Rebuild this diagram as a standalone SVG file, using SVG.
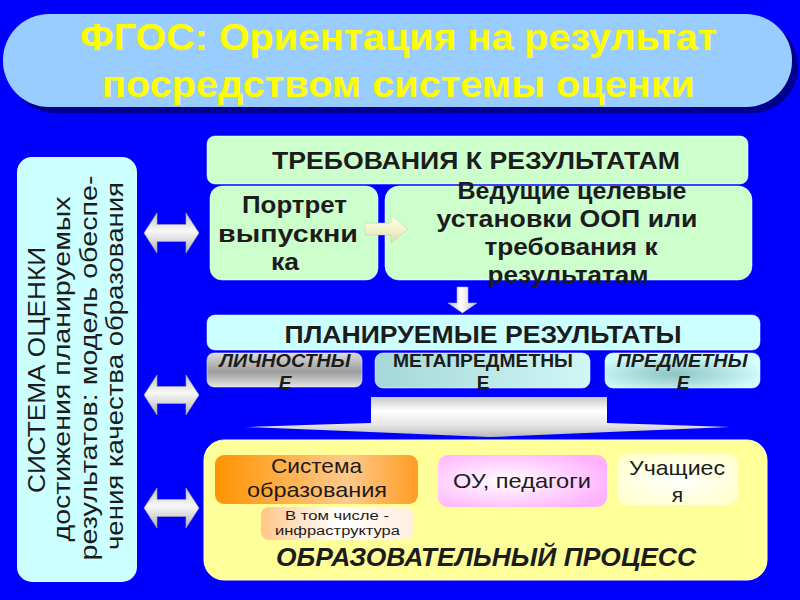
<svg xmlns="http://www.w3.org/2000/svg" width="800" height="600" viewBox="0 0 800 600">
<defs>
<style>
text{font-family:"Liberation Sans",Arial,sans-serif;fill:#1c1c1c;text-anchor:middle}
.title{font-size:36px;font-weight:bold;fill:#ffff00}
.side{font-size:24px}
.b{font-weight:bold}
.bi{font-weight:bold;font-style:italic}
.box{stroke:#ffffff;stroke-opacity:0.5;stroke-width:1}
.dbl{fill:url(#gArrow);stroke:#a8a8a8;stroke-width:0.6}
</style>
<linearGradient id="gArrow" x1="0" y1="0" x2="0" y2="1">
<stop offset="0" stop-color="#c4c4c4"/><stop offset="0.45" stop-color="#f8f8f8"/><stop offset="1" stop-color="#b2b2b2"/>
</linearGradient>
<linearGradient id="gDown" x1="0" y1="0" x2="1" y2="0">
<stop offset="0" stop-color="#bcbcbc"/><stop offset="0.45" stop-color="#ffffff"/><stop offset="1" stop-color="#c4c4c4"/>
</linearGradient>
<linearGradient id="gRight" x1="0" y1="0" x2="0" y2="1">
<stop offset="0" stop-color="#ffffe8"/><stop offset="0.5" stop-color="#f4f4d0"/><stop offset="1" stop-color="#dcdcb0"/>
</linearGradient>
<linearGradient id="gWide" x1="0" y1="0" x2="0" y2="1">
<stop offset="0" stop-color="#c8c8c8"/><stop offset="0.35" stop-color="#ffffff"/><stop offset="0.7" stop-color="#e6e6e6"/><stop offset="1" stop-color="#b8b8b8"/>
</linearGradient>
<linearGradient id="gLich" x1="0" y1="0" x2="0" y2="1">
<stop offset="0" stop-color="#dcdcdc"/><stop offset="0.55" stop-color="#9c9c9c"/><stop offset="1" stop-color="#e4e4e4"/>
</linearGradient>
<linearGradient id="gMeta" x1="0" y1="0" x2="1" y2="0">
<stop offset="0" stop-color="#a4d8d8"/><stop offset="1" stop-color="#d2f6f6"/>
</linearGradient>
<radialGradient id="gPred" cx="0.45" cy="0.6" r="0.6">
<stop offset="0" stop-color="#8ec4c4"/><stop offset="1" stop-color="#d4ffff"/>
</radialGradient>
<linearGradient id="gSys" x1="0" y1="0" x2="1" y2="0">
<stop offset="0" stop-color="#ff9300"/><stop offset="0.65" stop-color="#ffca8c"/><stop offset="1" stop-color="#ff9c24"/>
</linearGradient>
<linearGradient id="gInfra" x1="0" y1="0" x2="1" y2="0">
<stop offset="0" stop-color="#ffc688"/><stop offset="0.5" stop-color="#ffffff"/><stop offset="1" stop-color="#ffeedd"/>
</linearGradient>
<radialGradient id="gOU" cx="0.4" cy="0.5" r="0.65">
<stop offset="0" stop-color="#ffffff"/><stop offset="1" stop-color="#ffb0ff"/>
</radialGradient>
<radialGradient id="gUch" cx="0.5" cy="0.5" r="0.65">
<stop offset="0" stop-color="#ffffff"/><stop offset="1" stop-color="#ffffcc"/>
</radialGradient>
</defs>

<rect width="800" height="600" fill="#0000ff"/>

<g id="title">
<rect x="9" y="20" width="789" height="93" rx="46" fill="#000090"/>
<rect x="3" y="14" width="789" height="93" rx="46" fill="#99ccff"/>
<text class="title" x="398.5" y="50" textLength="637" lengthAdjust="spacingAndGlyphs">ФГОС: Ориентация на результат</text>
<text class="title" x="398.5" y="97" textLength="593" lengthAdjust="spacingAndGlyphs">посредством системы оценки</text>
</g>

<g id="sistema-ocenki">
<rect x="17" y="157" width="120" height="425" rx="15" fill="#ccffff"/>
<text class="side" transform="translate(45,370) rotate(-90)" textLength="246" lengthAdjust="spacingAndGlyphs">СИСТЕМА ОЦЕНКИ</text>
<text class="side" transform="translate(70,369) rotate(-90)" textLength="345" lengthAdjust="spacingAndGlyphs">достижения планируемых</text>
<text class="side" transform="translate(97,368) rotate(-90)" textLength="385" lengthAdjust="spacingAndGlyphs">результатов: модель обеспе-</text>
<text class="side" transform="translate(123,366) rotate(-90)" textLength="368" lengthAdjust="spacingAndGlyphs">чения качества образования</text>
</g>

<g id="trebovaniya">
<rect class="box" x="207" y="136" width="541" height="48" rx="8" fill="#ccffcc"/>
<text class="b" x="476" y="169" font-size="23" textLength="408" lengthAdjust="spacingAndGlyphs">ТРЕБОВАНИЯ К РЕЗУЛЬТАТАМ</text>
</g>

<g id="portret">
<rect class="box" x="210" y="186" width="168" height="94" rx="12" fill="#ccffcc"/>
<text class="b" x="294.5" y="213" font-size="24" textLength="105" lengthAdjust="spacingAndGlyphs">Портрет</text>
<text class="b" x="288" y="242" font-size="24" textLength="140" lengthAdjust="spacingAndGlyphs">выпускни</text>
<text class="b" x="285" y="270" font-size="24" textLength="28" lengthAdjust="spacingAndGlyphs">ка</text>
</g>

<g id="vedushchie">
<rect class="box" x="385" y="186" width="367" height="94" rx="14" fill="#ccffcc"/>
<text class="b" x="572" y="199" font-size="24" textLength="229" lengthAdjust="spacingAndGlyphs">Ведущие целевые</text>
<text class="b" x="567" y="227" font-size="24" textLength="261" lengthAdjust="spacingAndGlyphs">установки ООП или</text>
<text class="b" x="571" y="255" font-size="24" textLength="173" lengthAdjust="spacingAndGlyphs">требования к</text>
<text class="b" x="568" y="283" font-size="24" textLength="161" lengthAdjust="spacingAndGlyphs">результатам</text>
</g>

<g id="planiruemye">
<rect class="box" x="207" y="315" width="553" height="35" rx="8" fill="#ccffff"/>
<text class="b" x="483" y="343" font-size="24" textLength="397" lengthAdjust="spacingAndGlyphs">ПЛАНИРУЕМЫЕ РЕЗУЛЬТАТЫ</text>
</g>

<g id="lichnostnye">
<rect class="box" x="207" y="353" width="155" height="34" rx="7" fill="url(#gLich)"/>
<text class="bi" x="285" y="367" font-size="19" textLength="131" lengthAdjust="spacingAndGlyphs">ЛИЧНОСТНЫ</text>
<text class="bi" x="285" y="389" font-size="19">Е</text>
</g>

<g id="metapredmetnye">
<rect class="box" x="375" y="353" width="215" height="35" rx="8" fill="url(#gMeta)"/>
<text class="b" x="483" y="367" font-size="19" textLength="180" lengthAdjust="spacingAndGlyphs">МЕТАПРЕДМЕТНЫ</text>
<text class="b" x="483" y="389" font-size="19">Е</text>
</g>

<g id="predmetnye">
<rect class="box" x="605" y="353" width="155" height="35" rx="8" fill="url(#gPred)"/>
<text class="bi" x="682" y="367" font-size="19" textLength="131" lengthAdjust="spacingAndGlyphs">ПРЕДМЕТНЫ</text>
<text class="bi" x="683" y="389" font-size="19">Е</text>
</g>

<g id="obrazovatelnyi-process">
<rect x="204" y="440" width="563" height="140" rx="20" fill="#ffff99" stroke="#ffffcc" stroke-width="1"/>
<text class="bi" x="486" y="566" font-size="26" textLength="420" lengthAdjust="spacingAndGlyphs">ОБРАЗОВАТЕЛЬНЫЙ ПРОЦЕСС</text>
</g>

<g id="sistema-obrazovaniya">
<rect x="215" y="455" width="203" height="49" rx="9" fill="url(#gSys)"/>
<text x="316.5" y="473" font-size="21" textLength="91" lengthAdjust="spacingAndGlyphs">Система</text>
<text x="317" y="497" font-size="21" textLength="140" lengthAdjust="spacingAndGlyphs">образования</text>
</g>

<g id="infrastruktura">
<rect x="261" y="507" width="152" height="33" rx="8" fill="url(#gInfra)"/>
<text x="337" y="520" font-size="12.5" textLength="104" lengthAdjust="spacingAndGlyphs">В том числе -</text>
<text x="337.5" y="535" font-size="12.5" textLength="125" lengthAdjust="spacingAndGlyphs">инфраструктура</text>
</g>

<g id="ou-pedagogi">
<rect x="438" y="455" width="169" height="52" rx="10" fill="url(#gOU)"/>
<text x="522" y="488" font-size="21" textLength="138" lengthAdjust="spacingAndGlyphs">ОУ, педагоги</text>
</g>

<g id="uchashchiesya">
<rect x="617" y="454" width="121" height="51" rx="10" fill="url(#gUch)"/>
<text x="677" y="475" font-size="21" textLength="96" lengthAdjust="spacingAndGlyphs">Учащиес</text>
<text x="677.5" y="502" font-size="21">я</text>
</g>

<g id="connectors">
<path class="dbl" d="M144,233 L157,213 L157,224.5 L186,224.5 L186,213 L199,233 L186,253 L186,241.5 L157,241.5 L157,253 Z"/>
<path class="dbl" d="M144,395 L157,375 L157,386.5 L186,386.5 L186,375 L199,395 L186,415 L186,403.5 L157,403.5 L157,415 Z"/>
<path class="dbl" d="M144,508 L157,488 L157,499.5 L186,499.5 L186,488 L199,508 L186,528 L186,516.5 L157,516.5 L157,528 Z"/>
<path d="M365,223 L391,223 L391,215 L408,229 L391,243 L391,235 L365,235 Z" fill="url(#gRight)" stroke="#c8c8a0" stroke-width="0.5"/>
<path d="M457,287 L468,287 L468,303 L477,303 L462.5,313 L448,303 L457,303 Z" fill="url(#gDown)" stroke="#b0b0b0" stroke-width="0.5"/>
<path d="M371,397 L607,397 L607,423 Q670,425 730,427 Q610,432 489,437 Q368,432 245,427 Q310,425 371,423 Z" fill="url(#gWide)"/>
</g>
</svg>
